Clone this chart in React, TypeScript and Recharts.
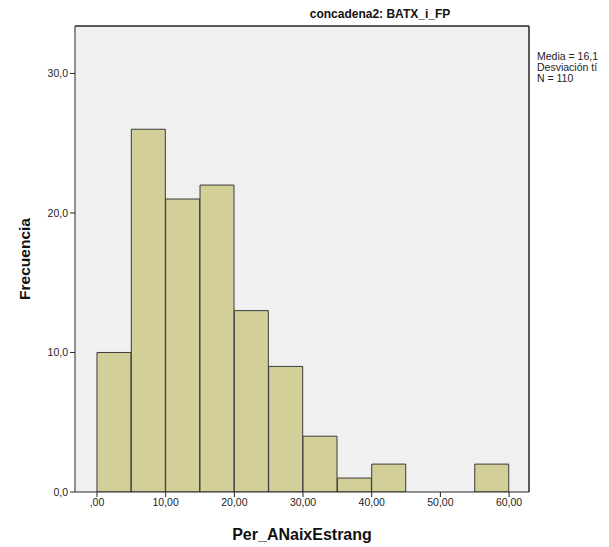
import React from "react";
import { ComposedChart, Bar, XAxis, YAxis, CartesianGrid, ReferenceLine } from "recharts";

const binMids = [2.5, 7.5, 12.5, 17.5, 22.5, 27.5, 32.5, 37.5, 42.5, 47.5, 52.5, 57.5];
const counts = [10, 26, 21, 22, 13, 9, 4, 1, 2, 0, 0, 2];
const xTicks = [0, 10, 20, 30, 40, 50, 60];
const yTicks = [0, 10, 20, 30];
const statLines = ["Media = 16,1", "Desviación tí", "N = 110"];

const data = binMids.map((m, i) => ({ mid: m, count: counts[i] }));

const fmtX = (v: number) => (v === 0 ? ",00" : `${v},00`);
const fmtY = (v: number) => `${v},0`;

const AXIS = "#262626";
const FONT = "Arial, 'Liberation Sans', sans-serif";
const X_DOMAIN: [number, number] = [-3.2, 62.9];
const Y_DOMAIN: [number, number] = [0, 33.4];

export default function App() {
  return (
    <div style={{ position: "absolute", left: 0, top: 0, width: 609, height: 547, background: "#fff" }}>
      <ComposedChart
        width={609}
        height={547}
        data={data}
        barCategoryGap={0}
        barGap={0}
        margin={{ top: 26, right: 80, bottom: 0, left: 0 }}
      >
        <CartesianGrid fill="#f0f0f0" horizontal={false} vertical={false} />
        <XAxis
          dataKey="mid"
          type="number"
          domain={X_DOMAIN}
          ticks={xTicks}
          tickFormatter={fmtX}
          allowDataOverflow
          height={55}
          stroke={AXIS}
          tickSize={5}
          tick={{ fill: "#222", fontSize: 10.5, fontFamily: FONT }}
          label={{
            value: "Per_ANaixEstrang",
            position: "insideBottom",
            offset: 7,
            style: { fill: "#111", fontSize: 16, fontWeight: "bold", fontFamily: FONT },
          }}
        />
        <YAxis
          type="number"
          domain={Y_DOMAIN}
          ticks={yTicks}
          tickFormatter={fmtY}
          allowDataOverflow
          width={75}
          stroke={AXIS}
          tickSize={5}
          tick={{ fill: "#222", fontSize: 10.5, fontFamily: FONT }}
          label={{
            value: "Frecuencia",
            angle: -90,
            position: "insideLeft",
            offset: 24,
            style: { fill: "#111", fontSize: 15.5, fontWeight: "bold", fontFamily: FONT, textAnchor: "middle" },
          }}
        />
        <ReferenceLine y={Y_DOMAIN[1]} stroke={AXIS} strokeWidth={1.5} ifOverflow="extendDomain" />
        <ReferenceLine x={X_DOMAIN[1]} stroke={AXIS} strokeWidth={1.5} ifOverflow="extendDomain" />
        <Bar
          dataKey="count"
          fill="#d3cf98"
          stroke="#3a3a3a"
          strokeWidth={1}
          isAnimationActive={false}
        />
        <text
          x={380}
          y={18}
          textAnchor="middle"
          style={{ fontSize: 12, fontWeight: "bold", fontFamily: FONT, fill: "#111" }}
        >
          concadena2: BATX_i_FP
        </text>
        {statLines.map((s, i) => (
          <text
            key={s}
            x={537}
            y={60 + i * 11}
            style={{ fontSize: 10.5, fontFamily: FONT, fill: "#222" }}
          >
            {s}
          </text>
        ))}
      </ComposedChart>
    </div>
  );
}
